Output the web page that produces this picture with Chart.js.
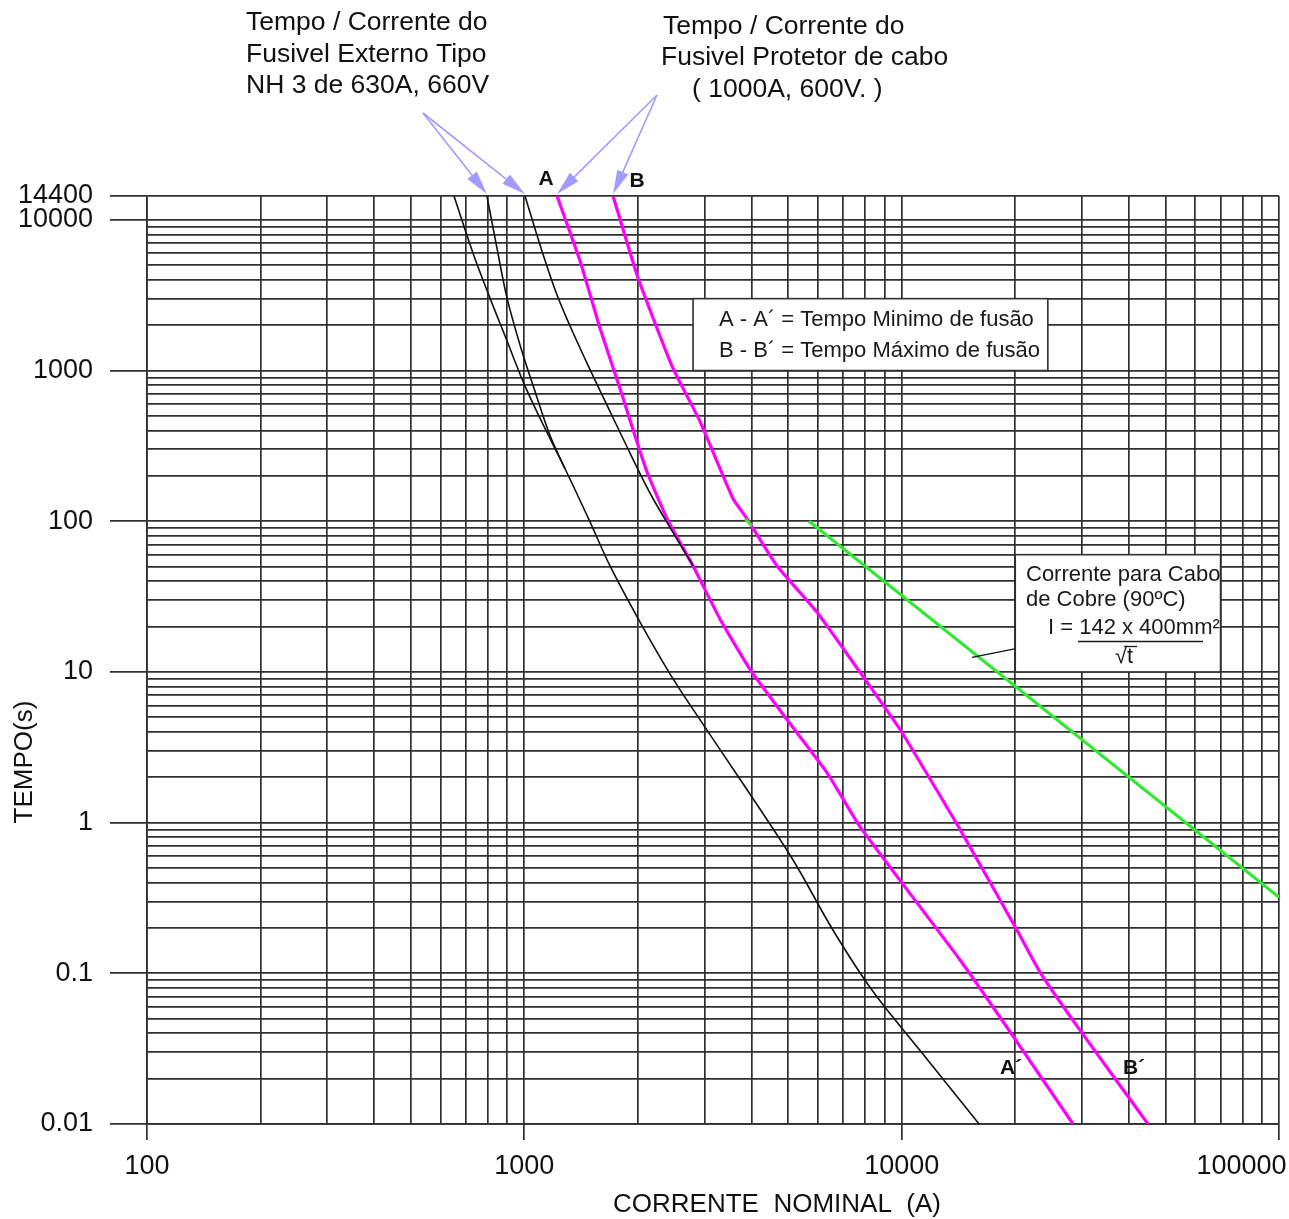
<!DOCTYPE html>
<html>
<head>
<meta charset="utf-8">
<script src="https://cdn.jsdelivr.net/npm/chart.js@4.4.0/dist/chart.umd.min.js"></script>
<style>
  html, body { margin: 0; padding: 0; background: #fff; }
  #wrap { width: 1289px; height: 1219px; }
</style>
</head>
<body>
<div id="wrap"><canvas id="grafico" width="1289" height="1219"></canvas></div>
<script>
// ticks (gridlines) do papel log-log
const xTicks = [100, 200, 300, 400, 500, 600, 700, 800, 900,
                1000, 2000, 3000, 4000, 5000, 6000, 7000, 8000, 9000,
                10000, 20000, 30000, 40000, 50000, 60000, 70000, 80000, 90000,
                100000];
const xLabels = ['100', '1000', '10000', '100000'];

const yTicks = [0.01, 0.02, 0.03, 0.04, 0.05, 0.06, 0.07, 0.08, 0.09,
                0.1, 0.2, 0.3, 0.4, 0.5, 0.6, 0.7, 0.8, 0.9,
                1, 2, 3, 4, 5, 6, 7, 8, 9,
                10, 20, 30, 40, 50, 60, 70, 80, 90,
                100, 200, 300, 400, 500, 600, 700, 800, 900,
                1000, 2000, 3000, 4000, 5000, 6000, 7000, 8000, 9000,
                10000, 14400];
const yLabels = ['0.01', '0.1', '1', '10', '100', '1000', '10000', '14400'];

// curvas [corrente (A), tempo (s)]
const nh3Curva1 = [[651, 14400], [734, 5849], [811, 3025], [894, 1638], [992, 848], [1101, 481],
                   [1282, 223], [1493, 99], [1687, 50.5], [2026, 21.4], [2418, 9.94], [2800, 5.64],
                   [3846, 1.73], [5154, 0.565], [6580, 0.193], [8350, 0.0771], [11190, 0.0307],
                   [16040, 0.01]];
const nh3Curva2 = [[796, 14400], [846, 6511], [900, 3025], [980, 1405], [1061, 761], [1170, 370], [1282, 223]];
const nh3Curva3 = [[1004, 14400], [1107, 6511], [1221, 3168], [1330, 1909], [1475, 1083], [1657, 587],
                   [1826, 354], [2038, 200.6], [2194, 141], [2418, 93.2], [2800, 50.5]];
const curvaA = [[1221, 14400], [1405, 5335], [1587, 1909], [1793, 760], [1929, 425], [2113, 213],
                [2389, 104], [2800, 50.5], [3302, 22.4], [3963, 10.4], [4966, 4.83], [6340, 2.15],
                [7760, 0.937], [14300, 0.122], [20100, 0.0358], [28450, 0.01]];
const curvaB = [[1718, 14400], [1989, 4306], [2247, 1909], [2477, 1034], [2922, 459], [3575, 141],
                [3891, 104], [4676, 50.5], [5967, 24.9], [7760, 9.93], [9903, 4.15], [14300, 0.895],
                [20220, 0.193], [23270, 0.1016], [29720, 0.0418], [44960, 0.01]];
const caboCobre = [[5680, 100], [100000, 0.32]];
const caboCobreTraco = [[3846, 104], [4013, 93]];
const chamadaCabo = [[15370, 12.5], [22160, 15.0]];

const FONTE = "'Liberation Sans', Arial, sans-serif";
const GRADE = '#303030';

function pontos(arr) { return arr.map(p => ({ x: p[0], y: p[1] })); }

function serie(arr, cor, largura, tensao) {
    return {
        data: pontos(arr),
        showLine: true,
        borderColor: cor,
        borderWidth: largura,
        pointRadius: 0,
        tension: tensao,
        fill: false
    };
}

function rotulo(lista, v) {
    const s = String(v);
    return lista.includes(s) ? s : '';
}

function seta(ctx, x0, y0, x1, y1) {
    const ang = Math.atan2(y1 - y0, x1 - x0);
    const L = 24, W = 6;
    const bx = x1 - L * Math.cos(ang), by = y1 - L * Math.sin(ang);
    ctx.beginPath(); ctx.moveTo(x0, y0); ctx.lineTo(bx, by); ctx.stroke();
    ctx.beginPath();
    ctx.moveTo(x1, y1);
    ctx.lineTo(bx + W * Math.sin(ang), by - W * Math.cos(ang));
    ctx.lineTo(bx - W * Math.sin(ang), by + W * Math.cos(ang));
    ctx.closePath(); ctx.fill();
}

function caixa(ctx, x0, y0, x1, y1) {
    ctx.fillStyle = '#fff';
    ctx.fillRect(x0, y0, x1 - x0, y1 - y0);
    ctx.strokeStyle = GRADE;
    ctx.lineWidth = 1.6;
    ctx.strokeRect(x0, y0, x1 - x0, y1 - y0);
}

const anotacoes = {
    id: 'anotacoes',
    afterDatasetsDraw(chart) {
        const { ctx } = chart;
        const sx = chart.scales.x, sy = chart.scales.y;
        ctx.save();

        // legenda A-A' / B-B'
        caixa(ctx, sx.getPixelForValue(2800), sy.getPixelForValue(3000), sx.getPixelForValue(24400), sy.getPixelForValue(1000));
        ctx.fillStyle = '#1a1a1a';
        ctx.font = '22px ' + FONTE;
        ctx.textAlign = 'left';
        ctx.textBaseline = 'middle';
        ctx.fillText('A - A\u00B4 = Tempo Minimo de fusão', 719, 320);
        ctx.fillText('B - B\u00B4 = Tempo Máximo de fusão', 719, 351);

        // caixa do cabo de cobre
        caixa(ctx, sx.getPixelForValue(20000), sy.getPixelForValue(60), sx.getPixelForValue(70000), sy.getPixelForValue(10));
        ctx.fillStyle = '#1a1a1a';
        ctx.fillText('Corrente para Cabo', 1026, 575);
        ctx.fillText('de Cobre (90ºC)', 1026, 600);
        ctx.fillText('I = 142 x 400mm²', 1048, 628);
        ctx.strokeStyle = '#1a1a1a';
        ctx.lineWidth = 1.3;
        ctx.beginPath(); ctx.moveTo(1078, 641.5); ctx.lineTo(1203, 641.5); ctx.stroke();
        ctx.textAlign = 'center';
        ctx.fillText('\u221At', 1124, 657);
        ctx.beginPath(); ctx.moveTo(1124, 646.5); ctx.lineTo(1137, 646.5); ctx.stroke();

        // textos superiores
        ctx.font = '26.5px ' + FONTE;
        ctx.textAlign = 'left';
        ctx.fillStyle = '#111';
        ctx.fillText('Tempo / Corrente do', 246, 23);
        ctx.fillText('Fusivel Externo Tipo', 246, 55);
        ctx.fillText('NH 3 de 630A, 660V', 246, 86);
        ctx.fillText('Tempo / Corrente do', 663, 27);
        ctx.fillText('Fusivel Protetor de cabo', 661, 58);
        ctx.fillText('( 1000A, 600V. )', 692, 90);

        // setas
        ctx.strokeStyle = '#a39cff';
        ctx.fillStyle = '#a39cff';
        ctx.lineWidth = 1.6;
        const topo = sy.getPixelForValue(14400) - 2;
        seta(ctx, 423, 113, sx.getPixelForValue(796), topo);
        seta(ctx, 423, 113, sx.getPixelForValue(1004), topo);
        seta(ctx, 657, 95, sx.getPixelForValue(1221), topo);
        seta(ctx, 657, 95, sx.getPixelForValue(1718), topo);

        // letras das curvas
        ctx.fillStyle = '#111';
        ctx.font = 'bold 21px ' + FONTE;
        ctx.textAlign = 'center';
        ctx.fillText('A', 546, 179);
        ctx.fillText('B', 637, 181);
        ctx.fillText('A\u00B4', 1011, 1068);
        ctx.fillText('B\u00B4', 1134, 1068);

        // títulos dos eixos
        ctx.font = '26px ' + FONTE;
        ctx.fillText('CORRENTE  NOMINAL  (A)', 777, 1205);
        ctx.translate(25, 762);
        ctx.rotate(-Math.PI / 2);
        ctx.fillText('TEMPO(s)', 0, 0);
        ctx.restore();
    }
};

const ehDecadaX = v => xLabels.includes(String(v));
const ehDecadaY = v => yLabels.includes(String(v));

Chart.defaults.font.family = FONTE;
Chart.defaults.color = '#111';

new Chart(document.getElementById('grafico'), {
    type: 'scatter',
    data: {
        datasets: [
            serie(nh3Curva1, '#111', 1.6, 0.35),
            serie(nh3Curva2, '#111', 1.6, 0.35),
            serie(nh3Curva3, '#111', 1.6, 0.35),
            serie(chamadaCabo, '#111', 1.3, 0),
            serie(caboCobreTraco, '#33e833', 3, 0),
            serie(caboCobre, '#33e833', 3.2, 0),
            serie(curvaA, '#ff00ff', 3.2, 0.15),
            serie(curvaB, '#ff00ff', 3.2, 0.15)
        ]
    },
    options: {
        responsive: false,
        animation: false,
        layout: { padding: { top: 196, right: 10, left: 0, bottom: 0 } },
        plugins: { legend: { display: false }, tooltip: { enabled: false } },
        scales: {
            x: {
                type: 'logarithmic',
                min: 100,
                max: 100000,
                afterBuildTicks: s => { s.ticks = xTicks.map(v => ({ value: v })); },
                afterFit: s => { s.height = 95; s.paddingLeft = 0; s.paddingRight = 0; },
                grid: {
                    color: GRADE,
                    lineWidth: 1.7,
                    tickLength: 16,
                    tickColor: c => (c.tick && ehDecadaX(c.tick.value)) ? GRADE : 'rgba(0,0,0,0)'
                },
                border: { color: GRADE, width: 1.7 },
                ticks: {
                    autoSkip: false,
                    maxRotation: 0,
                    padding: 10,
                    font: { size: 27 },
                    callback: v => v === 100000 ? '100000          ' : rotulo(xLabels, v)
                }
            },
            y: {
                type: 'logarithmic',
                min: 0.01,
                max: 14400,
                afterBuildTicks: s => { s.ticks = yTicks.map(v => ({ value: v })); },
                afterFit: s => { s.width = 147; s.paddingTop = 0; s.paddingBottom = 0; },
                grid: {
                    color: GRADE,
                    lineWidth: 1.7,
                    tickLength: 37,
                    tickColor: c => (c.tick && ehDecadaY(c.tick.value)) ? GRADE : 'rgba(0,0,0,0)'
                },
                border: { color: GRADE, width: 1.7 },
                ticks: {
                    autoSkip: false,
                    padding: 17,
                    font: { size: 27 },
                    callback: v => rotulo(yLabels, v)
                }
            }
        }
    },
    plugins: [anotacoes]
});
</script>
</body>
</html>
